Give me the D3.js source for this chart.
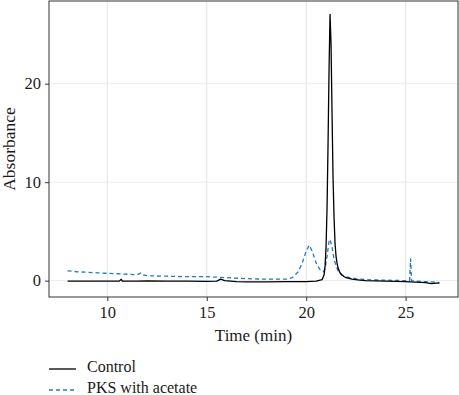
<!DOCTYPE html>
<html>
<head>
<meta charset="utf-8">
<script src="https://cdn.jsdelivr.net/npm/d3@7"></script>
<style>
  body { margin: 0; background: #fff; }
  text { font-family: "Liberation Serif", "DejaVu Serif", serif; fill: #1a1a1a; }
</style>
</head>
<body>
<script>
"use strict";

// retention time (min) and absorbance
var controlTime = [8.0, 8.5, 9.0, 9.5, 10.0, 10.6, 10.7, 10.75, 11.5, 12.0, 13.0, 14.0, 15.0, 15.5, 15.7, 15.9,
    16.5, 17.0, 18.0, 19.0, 20.0, 20.5, 20.8, 20.9, 20.95, 21.0, 21.05, 21.1, 21.15, 21.2, 21.25, 21.3, 21.35,
    21.4, 21.45, 21.5, 21.55, 21.6, 21.7, 21.8, 22.0, 22.3, 22.7, 23.0, 24.0, 25.0, 25.5, 26.0, 26.3, 26.5, 26.7];
var controlAbs = [-0.05, -0.05, -0.05, -0.05, -0.05, -0.05, 0.15, -0.05, -0.05, -0.03, -0.05, -0.05, -0.08, -0.05, 0.15, 0.0,
    -0.1, -0.12, -0.12, -0.1, -0.1, -0.05, 0.1, 0.6, 1.5, 3.5, 7.5, 14, 21.5, 27.05, 24, 17, 10.5,
    6.5, 3.8, 2.5, 1.8, 1.3, 0.8, 0.55, 0.3, 0.15, 0.05, 0.0, -0.05, -0.1, -0.15, -0.2, -0.3, -0.25, -0.25];

var pksTime = [8.0, 8.5, 9.0, 9.5, 10.0, 10.5, 11.0, 11.5, 11.7, 11.8, 12.0, 13.0, 14.0, 15.0, 15.5, 16.0, 17.0,
    18.0, 19.0, 19.3, 19.6, 19.8, 20.0, 20.15, 20.3, 20.5, 20.7, 20.85, 20.95, 21.05, 21.15, 21.2, 21.3, 21.4,
    21.5, 21.6, 21.8, 22.0, 22.5, 23.0, 24.0, 25.0, 25.2, 25.25, 25.3, 25.5, 26.0, 26.5, 26.7];
var pksAbs = [1.0, 0.9, 0.85, 0.8, 0.75, 0.7, 0.65, 0.6, 0.8, 0.6, 0.5, 0.45, 0.4, 0.4, 0.35, 0.3, 0.2,
    0.15, 0.15, 0.3, 0.9, 1.8, 3.0, 3.6, 3.0, 1.8, 1.1, 0.9, 1.2, 2.5, 4.0, 4.2, 3.4, 2.2,
    1.5, 1.0, 0.6, 0.4, 0.2, 0.1, 0.05, 0.0, 0.0, 2.2, 0.0, -0.05, -0.1, -0.15, -0.2];

var xTicks = [10, 15, 20, 25];
var yTicks = [0, 10, 20];
var seriesNames = ["Control", "PKS with acetate"];

function zipSeries(ts, vs) {
    return ts.map(function(t, i) { return {t: t, v: vs[i]}; });
}

var series = [
    {name: seriesNames[0], values: zipSeries(controlTime, controlAbs), color: "#000000", dash: null, width: 1.3},
    {name: seriesNames[1], values: zipSeries(pksTime, pksAbs), color: "#1f7cc0", dash: "4,3", width: 1.3}
];

var width = 459, height = 395;
var panel = {left: 49, right: 458, top: 1, bottom: 297};

var svg = d3.select("body").append("svg")
    .attr("width", width)
    .attr("height", height);

var x = d3.scaleLinear().domain([7.065, 27.635]).range([panel.left, panel.right]);
var y = d3.scaleLinear().domain([-1.66, 28.4]).range([panel.bottom, panel.top]);

// grid
var grid = svg.append("g").attr("class", "grid");
grid.selectAll("line.vx")
    .data(xTicks)
    .enter().append("line")
    .attr("x1", function(d) { return x(d); })
    .attr("x2", function(d) { return x(d); })
    .attr("y1", panel.top)
    .attr("y2", panel.bottom)
    .attr("stroke", "#e3e3e3")
    .attr("stroke-width", 1);
grid.selectAll("line.hy")
    .data(yTicks)
    .enter().append("line")
    .attr("x1", panel.left)
    .attr("x2", panel.right)
    .attr("y1", function(d) { return y(d); })
    .attr("y2", function(d) { return y(d); })
    .attr("stroke", "#ebebeb")
    .attr("stroke-width", 1);

// traces
var line = d3.line()
    .x(function(d) { return x(d.t); })
    .y(function(d) { return y(d.v); });

svg.append("g").attr("class", "traces")
    .selectAll("path")
    .data(series.slice().reverse())
    .enter().append("path")
    .attr("d", function(d) { return line(d.values); })
    .attr("fill", "none")
    .attr("stroke", function(d) { return d.color; })
    .attr("stroke-width", function(d) { return d.width; })
    .attr("stroke-dasharray", function(d) { return d.dash; })
    .attr("stroke-linejoin", "round");

// panel border
svg.append("rect")
    .attr("x", panel.left)
    .attr("y", panel.top)
    .attr("width", panel.right - panel.left)
    .attr("height", panel.bottom - panel.top)
    .attr("fill", "none")
    .attr("stroke", "#333")
    .attr("stroke-width", 1);

// axes
var xAxis = svg.append("g")
    .attr("transform", "translate(0," + panel.bottom + ")")
    .call(d3.axisBottom(x).tickValues(xTicks).tickSize(4).tickPadding(5));
var yAxis = svg.append("g")
    .attr("transform", "translate(" + panel.left + ",0)")
    .call(d3.axisLeft(y).tickValues(yTicks).tickSize(4).tickPadding(4));
[xAxis, yAxis].forEach(function(ax) {
    ax.select(".domain").remove();
    ax.selectAll(".tick line").attr("stroke", "#333");
    ax.selectAll(".tick text")
        .attr("font-family", "Liberation Serif, DejaVu Serif, serif")
        .attr("font-size", 16.5)
        .attr("fill", "#1a1a1a");
});

// axis titles
svg.append("text")
    .attr("x", (panel.left + panel.right) / 2)
    .attr("y", 341)
    .attr("text-anchor", "middle")
    .attr("font-size", 17)
    .text("Time (min)");
svg.append("text")
    .attr("transform", "translate(15," + ((panel.top + panel.bottom) / 2) + ") rotate(-90)")
    .attr("text-anchor", "middle")
    .attr("font-size", 17.5)
    .text("Absorbance");

// legend
var legend = svg.append("g").attr("class", "legend")
    .selectAll("g")
    .data(series)
    .enter().append("g")
    .attr("transform", function(d, i) { return "translate(49," + (369 + i * 21) + ")"; });
legend.append("line")
    .attr("x1", 0)
    .attr("x2", 27)
    .attr("stroke", function(d) { return d.color; })
    .attr("stroke-width", function(d) { return d.width; })
    .attr("stroke-dasharray", function(d) { return d.dash; });
legend.append("text")
    .attr("x", 38)
    .attr("y", 3)
    .attr("font-size", 16)
    .text(function(d) { return d.name; });
</script>
</body>
</html>
